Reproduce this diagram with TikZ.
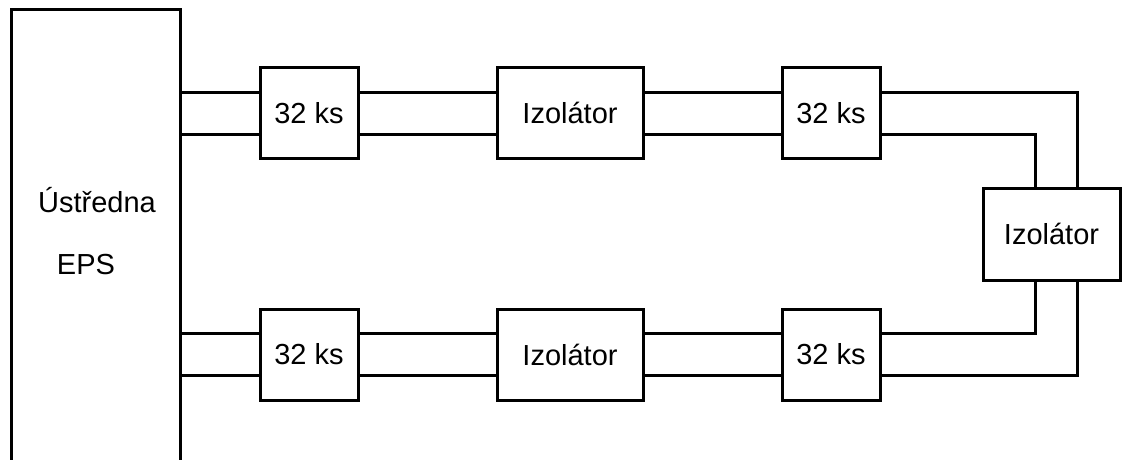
\documentclass[tikz,border=0pt]{standalone}
\usepackage{fontspec}
\setmainfont{Liberation Sans}
\begin{document}
\begin{tikzpicture}[x=1pt,y=-1pt,
  wire/.style={line width=3pt},
  blk/.style={draw,line width=3pt,rectangle,inner sep=0pt,minimum height=91pt,font=\fontsize{29}{35}\selectfont,fill=white},
  lbl/.style={inner sep=0pt,font=\fontsize{29}{35}\selectfont}]
\useasboundingbox (0,0) rectangle (1122,459);
\clip (0,0) rectangle (1122,459);
% central unit (open at the bottom edge)
\node[draw,line width=3pt,rectangle,inner sep=0pt,minimum width=169pt,minimum height=492pt,anchor=north west] (eps) at (10,8) {};
\node[lbl] (t1) at (97,200) {Ústředna};
\node[lbl] (t2) at (86,265) {EPS};
% levels
\coordinate (yA) at (0,92.5);
\coordinate (yB) at (0,134.5);
\coordinate (yC) at (0,333);
\coordinate (yD) at (0,375.5);
\coordinate (xI) at (1035,0);
\coordinate (xO) at (1077,0);
% blocks
\node[blk,minimum width=98pt] (k1) at (309,113) {32 ks};
\node[blk,minimum width=146pt] (i1) at (570,113) {Izolátor};
\node[blk,minimum width=98pt] (k2) at (831,113) {32 ks};
\node[blk,minimum width=98pt] (k3) at (309,354.5) {32 ks};
\node[blk,minimum width=146pt] (i2) at (570,354.5) {Izolátor};
\node[blk,minimum width=98pt] (k4) at (831,354.5) {32 ks};
\node[blk,minimum width=137pt,minimum height=92pt] (i3) at (1051.5,234) {Izolátor};
% top row wires
\draw[wire] (eps.east |- yA) -- (k1.west |- yA);
\draw[wire] (eps.east |- yB) -- (k1.west |- yB);
\draw[wire] (k1.east |- yA) -- (i1.west |- yA);
\draw[wire] (k1.east |- yB) -- (i1.west |- yB);
\draw[wire] (i1.east |- yA) -- (k2.west |- yA);
\draw[wire] (i1.east |- yB) -- (k2.west |- yB);
% bottom row wires
\draw[wire] (eps.east |- yC) -- (k3.west |- yC);
\draw[wire] (eps.east |- yD) -- (k3.west |- yD);
\draw[wire] (k3.east |- yC) -- (i2.west |- yC);
\draw[wire] (k3.east |- yD) -- (i2.west |- yD);
\draw[wire] (i2.east |- yC) -- (k4.west |- yC);
\draw[wire] (i2.east |- yD) -- (k4.west |- yD);
% right loop
\draw[wire] (k2.east |- yA) -| (i3.north -| xO);
\draw[wire] (k2.east |- yB) -| (i3.north -| xI);
\draw[wire] (k4.east |- yC) -| (i3.south -| xI);
\draw[wire] (k4.east |- yD) -| (i3.south -| xO);
\end{tikzpicture}
\end{document}
